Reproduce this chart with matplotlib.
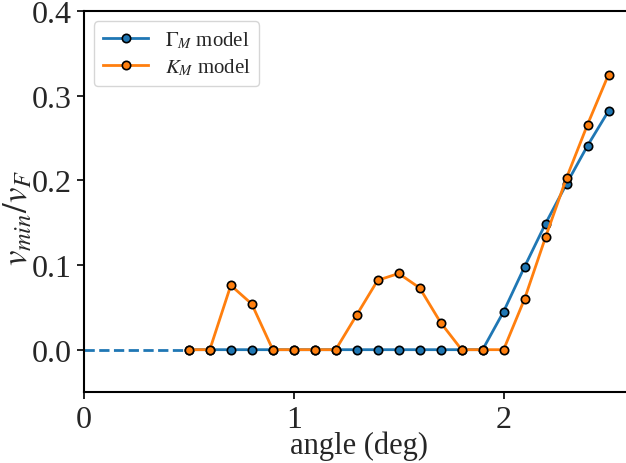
import matplotlib
matplotlib.use("Agg")
import matplotlib.pyplot as plt

plt.rcParams['font.family'] = ['Liberation Serif', 'DejaVu Serif']
plt.rcParams['mathtext.fontset'] = 'stix'

angles = [0.5, 0.6, 0.7, 0.8, 0.9, 1.0, 1.1, 1.2, 1.3, 1.4, 1.5,
          1.6, 1.7, 1.8, 1.9, 2.0, 2.1, 2.2, 2.3, 2.4, 2.5]
gamma_vals = [0, 0, 0, 0, 0, 0, 0, 0, 0, 0, 0,
              0, 0, 0, 0, 0.045, 0.098, 0.149, 0.196, 0.241, 0.282]
k_vals = [0, 0, 0.076, 0.054, 0, 0, 0, 0, 0.041, 0.082, 0.090,
          0.073, 0.032, 0, 0, 0, 0.060, 0.133, 0.203, 0.266, 0.325]
dash_x = [0, 0.5]
dash_y = [0, 0]

txt = '#262626'

fig = plt.figure(figsize=(6.26, 4.64), dpi=100)
ax = fig.add_axes([0.134, 0.153, 0.88, 0.821])

ax.plot(dash_x, dash_y, '--', color='C0', lw=2)
ax.plot(angles, gamma_vals, '-o', color='C0', lw=2, ms=6,
        mec='black', mew=1.2, label=r'$\Gamma_M$ model')
ax.plot(angles, k_vals, '-o', color='C1', lw=2, ms=6,
        mec='black', mew=1.2, label=r'$K_M$ model')

ax.set_xlim(0, 2.625)
ax.set_ylim(-0.05, 0.4)
ax.set_xticks([0, 1, 2])
ax.set_yticks([0.0, 0.1, 0.2, 0.3, 0.4])
ax.tick_params(labelsize=23, direction='out', length=5, width=1.2,
               labelcolor=txt, pad=4)
for s in ax.spines.values():
    s.set_linewidth(1.5)
ax.set_xlabel('angle (deg)', fontsize=22, labelpad=-2, color=txt)
ax.set_ylabel(r'$v_{min}/v_F$', fontsize=25, color=txt)
ax.yaxis.set_label_coords(-0.088, 0.46)
ax.legend(loc='upper left', fontsize=15, handlelength=2.2,
          borderaxespad=0.5, labelspacing=0.3, labelcolor=txt)

fig.savefig('out.png', dpi=100)
